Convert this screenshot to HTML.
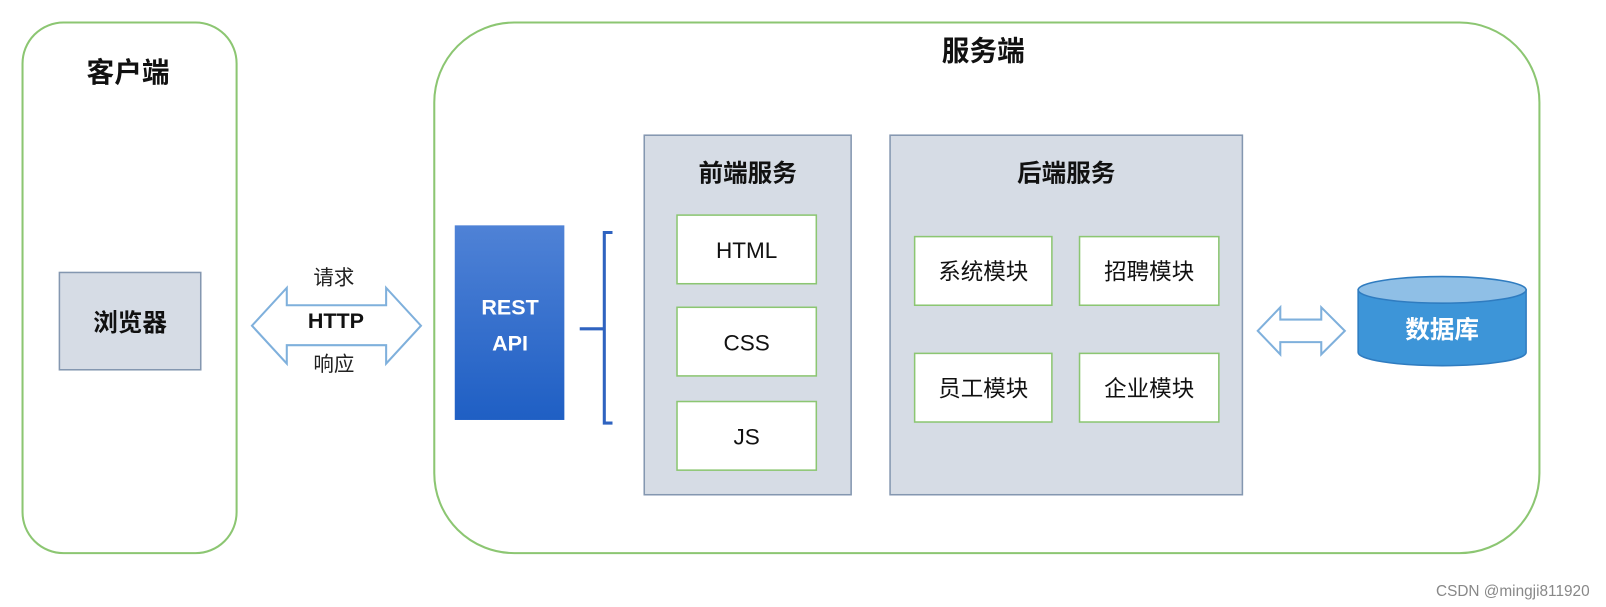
<!DOCTYPE html>
<html><head><meta charset="utf-8"><style>
html,body{margin:0;padding:0;background:#fff}
svg{display:block}
text{font-family:"Liberation Sans","Noto Sans CJK SC",sans-serif}
</style></head><body>
<svg width="1606" height="607" viewBox="0 0 1568 592.6" preserveAspectRatio="none" xmlns="http://www.w3.org/2000/svg">
<defs>
<linearGradient id="rg" x1="0" y1="0" x2="0" y2="1"><stop offset="0" stop-color="#4f82d6"/><stop offset="1" stop-color="#1f5fc4"/></linearGradient>
</defs>
<rect x="22" y="22" width="209" height="518" rx="40" fill="#fff" stroke="#8cc672" stroke-width="2"/>
<rect x="424" y="22" width="1079" height="518" rx="78" fill="#fff" stroke="#8cc672" stroke-width="2"/>
<text x="125" y="80" font-size="27" font-weight="bold" text-anchor="middle" fill="#111">客户端</text>
<text x="960" y="59" font-size="27" font-weight="bold" text-anchor="middle" fill="#111">服务端</text>
<rect x="58" y="266" width="138" height="95" fill="#d6dce5" stroke="#8497b0" stroke-width="1.5"/>
<text x="127" y="323" font-size="24" font-weight="bold" text-anchor="middle" fill="#111">浏览器</text>
<polygon points="246,318 280,281 280,298 377,298 377,281 411,318 377,355 377,337 280,337 280,355" fill="#fff" stroke="#7fb0dc" stroke-width="2"/>
<text x="326" y="278" font-size="20" text-anchor="middle" fill="#222">请求</text>
<text x="328" y="320" font-size="21" font-weight="bold" text-anchor="middle" fill="#111">HTTP</text>
<text x="326" y="362" font-size="20" text-anchor="middle" fill="#222">响应</text>
<rect x="444" y="220" width="107" height="190" fill="url(#rg)"/>
<text x="498" y="307" font-size="21" font-weight="bold" text-anchor="middle" fill="#fff">REST</text>
<text x="498" y="342" font-size="21" font-weight="bold" text-anchor="middle" fill="#fff">API</text>
<path d="M598,227 L590,227 L590,413 L598,413 M566,321 L590,321" fill="none" stroke="#2f63c0" stroke-width="3"/>
<rect x="629" y="132" width="202" height="351" fill="#d6dce5" stroke="#8497b0" stroke-width="1.5"/>
<text x="730" y="177" font-size="24" font-weight="bold" text-anchor="middle" fill="#111">前端服务</text>
<rect x="661" y="210" width="136" height="67" fill="#fff" stroke="#8cc672" stroke-width="1.5"/>
<text x="729" y="252" font-size="22" text-anchor="middle" fill="#111">HTML</text>
<rect x="661" y="300" width="136" height="67" fill="#fff" stroke="#8cc672" stroke-width="1.5"/>
<text x="729" y="342" font-size="22" text-anchor="middle" fill="#111">CSS</text>
<rect x="661" y="392" width="136" height="67" fill="#fff" stroke="#8cc672" stroke-width="1.5"/>
<text x="729" y="434" font-size="22" text-anchor="middle" fill="#111">JS</text>
<rect x="869" y="132" width="344" height="351" fill="#d6dce5" stroke="#8497b0" stroke-width="1.5"/>
<text x="1041" y="177" font-size="24" font-weight="bold" text-anchor="middle" fill="#111">后端服务</text>
<rect x="893" y="231" width="134" height="67" fill="#fff" stroke="#8cc672" stroke-width="1.5"/>
<text x="960" y="273" font-size="22" text-anchor="middle" fill="#111">系统模块</text>
<rect x="1054" y="231" width="136" height="67" fill="#fff" stroke="#8cc672" stroke-width="1.5"/>
<text x="1122" y="273" font-size="22" text-anchor="middle" fill="#111">招聘模块</text>
<rect x="893" y="345" width="134" height="67" fill="#fff" stroke="#8cc672" stroke-width="1.5"/>
<text x="960" y="387" font-size="22" text-anchor="middle" fill="#111">员工模块</text>
<rect x="1054" y="345" width="136" height="67" fill="#fff" stroke="#8cc672" stroke-width="1.5"/>
<text x="1122" y="387" font-size="22" text-anchor="middle" fill="#111">企业模块</text>
<polygon points="1228,323 1250,300 1250,312 1290,312 1290,300 1313,323 1290,346 1290,334 1250,334 1250,346" fill="#fff" stroke="#7fb0dc" stroke-width="2"/>
<path d="M1326,283 L1326,344 A82,13 0 0 0 1490,344 L1490,283 Z" fill="#3d95d8" stroke="#2f7cc0" stroke-width="1.5"/>
<ellipse cx="1408" cy="283" rx="82" ry="13" fill="#8fbfe6" stroke="#2f7cc0" stroke-width="1.5"/>
<text x="1408" y="330" font-size="24" font-weight="bold" text-anchor="middle" fill="#fff">数据库</text>
<text x="1552" y="582" font-size="15" text-anchor="end" fill="#888">CSDN @mingji811920</text>
</svg>
</body></html>
